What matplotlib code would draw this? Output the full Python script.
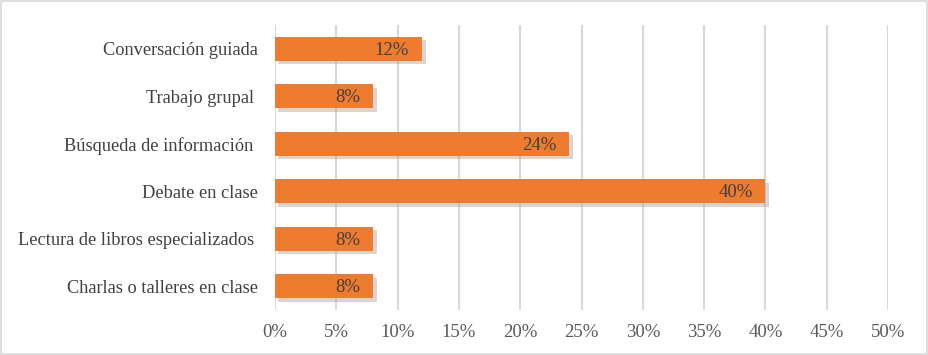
import matplotlib
matplotlib.use("Agg")
import matplotlib.pyplot as plt
import matplotlib.patheffects as pe
from matplotlib.patches import Rectangle
from matplotlib.ticker import FuncFormatter

categories = ["Conversación guiada", "Trabajo grupal ", "Búsqueda de información ",
              "Debate en clase", "Lectura de libros especializados ", "Charlas o talleres en clase"]
values = [12, 8, 24, 40, 8, 8]
xticks = [0, 5, 10, 15, 20, 25, 30, 35, 40, 45, 50]

plt.rcParams['font.family'] = ['Liberation Serif', 'DejaVu Serif']

fig = plt.figure(figsize=(9.29, 3.55), dpi=100)
ax = fig.add_axes([275/929, 1-310/355, (888-275)/929, 285/355])

y = list(range(len(categories)))
bars = ax.barh(y, values, height=0.5, color="#EF7B2E", zorder=3,
               path_effects=[pe.SimplePatchShadow(offset=(2.5, -2.5), shadow_rgbFace="#8c8c8c", alpha=0.35), pe.Normal()])
for yi, v in zip(y, values):
    ax.text(v - 1.05, yi + 0.03, f"{v}%", ha="right", va="center", fontsize=13.5, color="#404040", zorder=4)

ax.set_ylim(len(categories) - 0.5, -0.5)
ax.set_xlim(0, 50)
ax.set_xticks(xticks)
ax.xaxis.set_major_formatter(FuncFormatter(lambda v, p: f"{int(v)}%"))
ax.set_yticks(y)
ax.set_yticklabels(categories)
ax.tick_params(axis="y", length=0, pad=12, labelsize=13.2, labelcolor="#404040")
ax.tick_params(axis="x", length=0, pad=10, labelsize=13.5, labelcolor="#595959")
ax.grid(axis="x", color="#D9D9D9", linewidth=1.5, zorder=0)
for s in ax.spines.values():
    s.set_visible(False)

fig.patches.append(Rectangle((0.001, 0.002), 0.997, 0.995, transform=fig.transFigure,
                             fill=False, edgecolor="#D9D9D9", linewidth=1.2))
fig.savefig("out.png", dpi=100)
